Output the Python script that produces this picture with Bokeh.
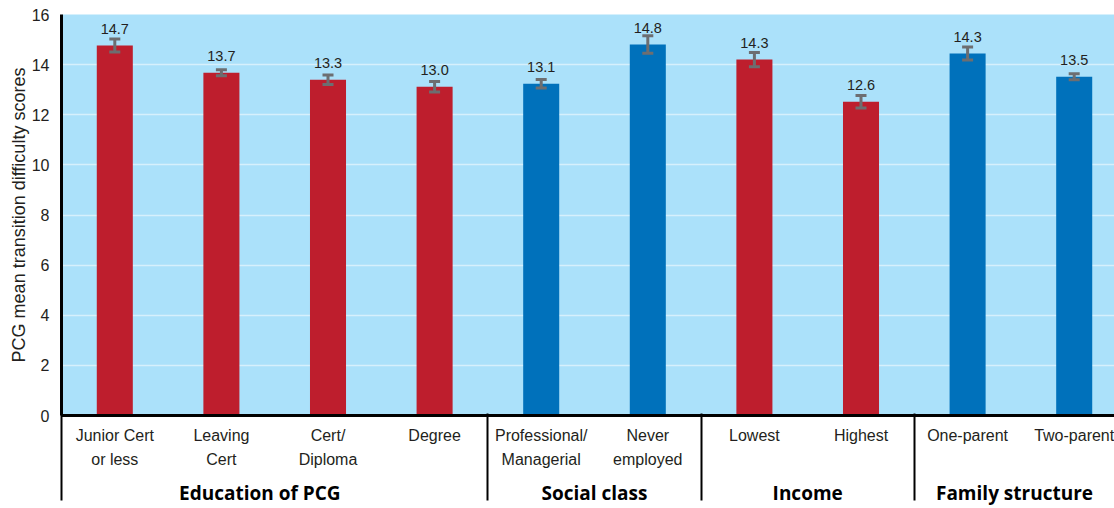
from bokeh.plotting import figure
from bokeh.models import Range1d, FixedTicker, LinearAxis, ColumnDataSource, Whisker, TeeHead, LabelSet
from bokeh.core.properties import value
from bokeh.embed import file_html
from bokeh.resources import INLINE

# ---- data ----
categories = ["Junior Cert\nor less", "Leaving\nCert", "Cert/\nDiploma", "Degree",
              "Professional/\nManagerial", "Never\nemployed",
              "Lowest", "Highest",
              "One-parent", "Two-parent"]
values = [14.76, 13.68, 13.40, 13.12, 13.24, 14.80, 14.20, 12.52, 14.44, 13.52]
value_labels = ["14.7", "13.7", "13.3", "13.0", "13.1", "14.8", "14.3", "12.6", "14.3", "13.5"]
errors = [0.26, 0.12, 0.19, 0.21, 0.17, 0.35, 0.28, 0.25, 0.26, 0.12]
groups = ["Education of PCG", "Social class", "Income", "Family structure"]
group_sizes = [4, 2, 2, 2]
group_label_x = [1.86, 5.0, 7.0, 8.94]   # where each group title is centred (category units)
y_ticks = [0, 2, 4, 6, 8, 10, 12, 14, 16]

RED = "#BE1E2D"
BLUE = "#0071BB"
group_colors = [RED, BLUE, RED, BLUE]

FONT = "Liberation Sans"

# ---- derived ----
x = [i + 0.5 for i in range(len(categories))]
colors = []
boundaries = [0]
for g, n in enumerate(group_sizes):
    colors += [group_colors[g]] * n
    boundaries.append(boundaries[-1] + n)

src = ColumnDataSource(dict(
    x=x, value=values, label=value_labels, color=colors,
    upper=[v + e for v, e in zip(values, errors)],
    lower=[v - e for v, e in zip(values, errors)],
))

p = figure(width=1114, height=508,
           x_range=Range1d(0, 9.878), y_range=Range1d(0, 16),
           output_backend="svg", toolbar_location=None,
           x_axis_type=None,
           min_border_left=61, min_border_right=0, min_border_top=14, min_border_bottom=93,
           background_fill_color="#ABE1FA", border_fill_color="white")
p.outline_line_color = None

# y axis
yt = FixedTicker(ticks=y_ticks)
p.yaxis.ticker = yt
p.yaxis.major_tick_line_color = None
p.yaxis.major_tick_out = 0
p.yaxis.major_tick_in = 0
p.yaxis.minor_tick_line_color = None
p.yaxis.minor_tick_out = 0
p.yaxis.axis_line_width = 3
p.yaxis.axis_line_color = "black"
p.yaxis.major_label_text_font = FONT
p.yaxis.major_label_text_font_size = "16px"
p.yaxis.major_label_text_color = "#231F20"
p.yaxis.major_label_standoff = 12
p.yaxis.axis_label = "PCG mean transition difficulty scores"
p.yaxis.axis_label_text_font = FONT
p.yaxis.axis_label_text_font_size = "18px"
p.yaxis.axis_label_text_font_style = "normal"
p.yaxis.axis_label_text_color = "#231F20"
p.yaxis.axis_label_standoff = 0
p.ygrid.ticker = yt
p.ygrid.grid_line_color = "#D6F0FC"
p.ygrid.grid_line_width = 1.5

# category axis
cat_axis = LinearAxis(
    ticker=FixedTicker(ticks=x, minor_ticks=[]),
    major_label_overrides={xi: c for xi, c in zip(x, categories)},
    major_tick_line_color=None, major_tick_in=0, major_tick_out=0,
    minor_tick_line_color=None, minor_tick_in=0, minor_tick_out=0,
    axis_line_width=3, axis_line_color="black",
    major_label_text_font=FONT, major_label_text_font_size="16px",
    major_label_text_color="#231F20",
    major_label_text_line_height=1.45,
    major_label_standoff=11,
)
p.add_layout(cat_axis, "below")

# group axis: separators drawn as minor ticks reaching up to the frame
grp_axis = LinearAxis(
    ticker=FixedTicker(ticks=group_label_x, minor_ticks=boundaries[:-1]),
    major_label_overrides={gx: g for gx, g in zip(group_label_x, groups)},
    major_tick_line_color=None, major_tick_in=0, major_tick_out=0,
    minor_tick_line_color="black", minor_tick_line_width=2,
    minor_tick_in=58, minor_tick_out=29,
    axis_line_color=None,
    major_label_text_font="Open Sans", major_label_text_font_style="bold",
    major_label_text_font_size="19px", major_label_text_color="#000000",
    major_label_standoff=-21,
)
p.add_layout(grp_axis, "below")

# bars
p.vbar(x="x", top="value", width=0.338, color="color", line_color=None, source=src)

# error bars
head = dict(size=11, line_color="#6D6E71", line_width=3)
wk = Whisker(base="x", upper="upper", lower="lower", source=src,
             line_color="#6D6E71", line_width=3,
             upper_head=TeeHead(**head), lower_head=TeeHead(**head))
wk.level = "overlay"
p.add_layout(wk)

# value labels
labels = LabelSet(x="x", y="value", text="label", source=src,
                  text_align="center", text_baseline="alphabetic", y_offset=12,
                  text_font=value(FONT), text_font_size="14.5px", text_color="#231F20")
p.add_layout(labels)

open("out.html", "w").write(file_html(p, INLINE, "chart"))
